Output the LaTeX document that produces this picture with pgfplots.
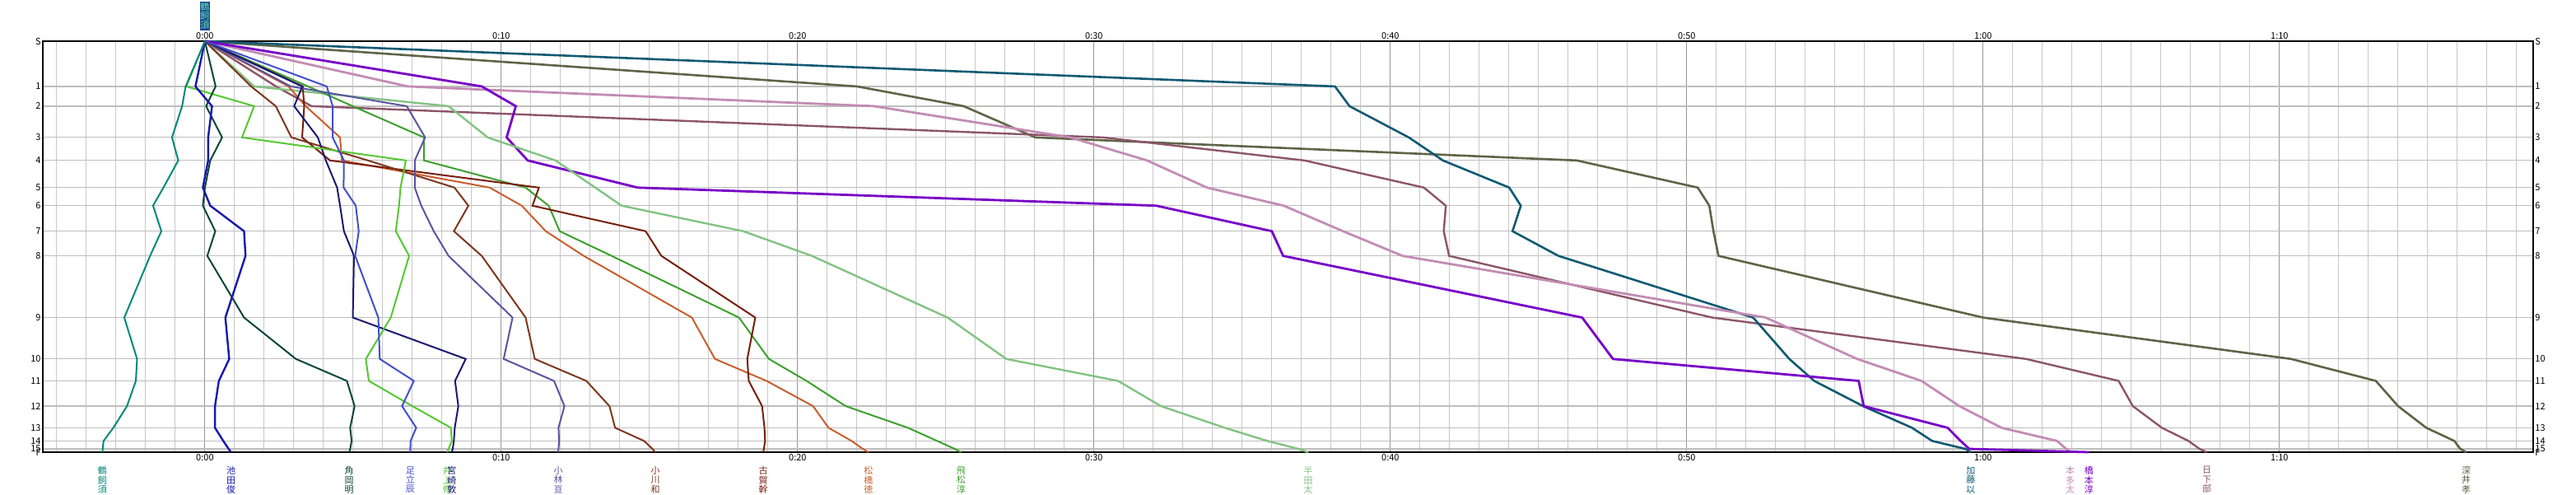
\documentclass[border=0pt]{standalone}
\usepackage{fontspec}
\setmainfont{Noto Sans CJK JP}
\usepackage{pgfplots}
\usepackage{pgfplotstable}
\pgfplotsset{compat=1.18}

\definecolor{c1}{RGB}{0,138,120}
\definecolor{c2}{RGB}{25,25,170}
\definecolor{c3}{RGB}{10,70,55}
\definecolor{c4}{RGB}{65,80,205}
\definecolor{c5}{RGB}{85,200,50}
\definecolor{c6}{RGB}{25,25,115}
\definecolor{c7}{RGB}{90,85,160}
\definecolor{c8}{RGB}{125,55,30}
\definecolor{c9}{RGB}{120,30,10}
\definecolor{c10}{RGB}{200,95,45}
\definecolor{c11}{RGB}{60,160,45}
\definecolor{c12}{RGB}{130,195,130}
\definecolor{c13}{RGB}{15,90,115}
\definecolor{c14}{RGB}{195,140,180}
\definecolor{c15}{RGB}{120,0,200}
\definecolor{c16}{RGB}{140,85,105}
\definecolor{c17}{RGB}{95,100,70}

% checkpoint position d, then time (minutes) of each runner
\pgfplotstableread{
d    r1    r2    r3   r4   r5   r6   r7    r8    r9    r10   r11   r12   r13   r14   r15   r16   r17
0    0     0     0    0    0    0    0     0     0     0     0     0     0     0     0     0     0
165  -0.65 -0.32 0.36 4.11 -0.63 3.29 2.9  1.56  3.30  2.82  3.48  1.66  38.13 6.85  9.34  2.4   22.0
237  -0.77 0.24  0.04 4.31 1.66 3.01 6.81  2.39  3.35  3.4   4.99  8.22  38.62 22.57 10.49 3.6   25.60
351  -1.11 0.11  0.58 4.31 1.25 3.81 7.43  2.92  3.28  4.56  7.39  9.54  40.62 29.2  10.18 30.3  28.02
435  -0.90 0.11  0.18 4.69 6.78 4.08 7.08  5.5   4.22  4.62  7.39  11.83 41.77 31.79 10.89 37.1  46.29
534  -1.40 -0.07 0.0  4.68 6.60 4.46 7.08  8.42  11.27 9.61  10.82 13.17 44.01 33.81 14.60 41.13 50.37
600  -1.75 0.18  -0.07 5.09 6.55 4.56 7.30 8.89  11.05 10.69 11.60 14.06 44.40 36.40 32.10 41.87 50.76
693  -1.47 1.32  0.35 5.19 6.44 4.69 7.72  8.40  14.87 11.50 11.97 18.16 44.12 38.4  36.0  41.80 50.9
783  -1.85 1.37  0.08 5.07 6.89 5.03 8.22  9.34  15.40 12.78 13.72 20.48 45.67 40.41 36.38 41.98 51.07
1008 -2.72 0.69  1.32 5.85 6.27 4.99 10.38 10.82 18.57 16.43 18.02 25.06 52.24 52.66 46.47 50.86 60.0
1159 -2.29 0.82  3.07 5.90 5.43 8.80 10.08 11.13 18.30 17.21 19.03 27.04 53.46 55.75 47.51 61.45 70.39
1239 -2.33 0.47  4.79 7.05 5.53 8.44 11.78 12.87 18.35 18.95 20.3  30.81 54.3  57.92 55.80 64.57 73.25
1331 -2.63 0.34  5.05 6.65 7.0  8.55 12.13 13.65 18.80 20.52 21.62 32.26 55.95 59.2  55.97 65.05 74.0
1410 -3.09 0.34  4.90 7.13 8.30 8.43 11.93 13.84 18.88 21.04 23.72 34.41 57.6  60.62 58.8  66.03 74.95
1458 -3.42 0.62  4.95 6.94 8.33 8.40 11.95 14.82 18.9  21.82 24.71 35.85 58.28 62.49 59.24 66.93 75.9
1487 -3.45 0.80  4.90 6.93 8.22 8.36 11.93 15.1  18.86 22.2  25.3  36.9  59.4  62.8  59.53 67.3  76.1
1499 -3.46 0.88  4.87 6.93 8.18 8.33 11.92 15.20 18.84 22.39 25.51 37.23 59.58 62.94 63.57 67.55 76.3
}\race

\newcommand\lab{\fontsize{5.5}{5.7}\selectfont}
\tikzset{nm/.style={anchor=north, text=#1, align=center, inner sep=0pt, font=\lab, yshift=-8.5pt}}

\begin{document}
\begin{tikzpicture}
\pgfplotsset{
  common/.style={
    scale only axis, width=1512.5pt, height=249.5pt,
    xmin=-5.47, xmax=78.56, ymin=0, ymax=1499, y dir=reverse,
    xtick={0,10,...,70},
    xticklabels={0:00,0:10,0:20,0:30,0:40,0:50,1:00,1:10},
    ytick={0,165,237,351,435,534,600,693,783,1008,1159,1239,1331,1410,1458,1487,1499},
    yticklabels={S,1,2,3,4,5,6,7,8,9,10,11,12,13,14,15,F},
    major tick length=0pt, minor tick length=0pt,
    tick label style={font=\lab, inner sep=1pt},
  },
}
\begin{axis}[common, name=main, clip=false,
    minor xtick={-5,-4,...,78},
    grid=both,
    major x grid style={draw={rgb,255:red,150;green,150;blue,150}, line width=0.5pt},
    minor x grid style={draw={rgb,255:red,200;green,200;blue,200}, line width=0.5pt},
    major y grid style={draw={rgb,255:red,190;green,190;blue,190}, line width=0.6pt},
    axis line style={black, line width=0.6pt},
    every axis plot/.append style={line width=1pt, mark=none},
  ]
  \addplot[c17, line width=1.3pt] table[x=r17,y=d] {\race};
  \addplot[c16, line width=1.2pt] table[x=r16,y=d] {\race};
  \addplot[c13, line width=1.3pt] table[x=r13,y=d] {\race};
  \addplot[c14, line width=1.4pt] table[x=r14,y=d] {\race};
  \addplot[c15, line width=1.4pt] table[x=r15,y=d] {\race};
  \addplot[c12, line width=1.2pt] table[x=r12,y=d] {\race};
  \addplot[c11] table[x=r11,y=d] {\race};
  \addplot[c10] table[x=r10,y=d] {\race};
  \addplot[c9] table[x=r9,y=d] {\race};
  \addplot[c8] table[x=r8,y=d] {\race};
  \addplot[c7] table[x=r7,y=d] {\race};
  \addplot[c6] table[x=r6,y=d] {\race};
  \addplot[c5] table[x=r5,y=d] {\race};
  \addplot[c4] table[x=r4,y=d] {\race};
  \addplot[c3] table[x=r3,y=d] {\race};
  \addplot[c2, line width=1.2pt] table[x=r2,y=d] {\race};
  \addplot[c1] table[x=r1,y=d] {\race};

  \node[nm=c1] at (axis cs:-3.46,1499) {鶴\\飼\\須};
  \node[nm=c2] at (axis cs:0.88,1499) {池\\田\\俊};
  \node[nm=c3] at (axis cs:4.87,1499) {角\\岡\\明};
  \node[nm=c4] at (axis cs:6.93,1499) {足\\立\\辰};
  \node[nm=c5] at (axis cs:8.18,1499) {井\\上\\修};
  \node[nm=c6] at (axis cs:8.33,1499) {宮\\崎\\敦};
  \node[nm=c7] at (axis cs:11.92,1499) {小\\林\\亘};
  \node[nm=c8] at (axis cs:15.20,1499) {小\\川\\和};
  \node[nm=c9] at (axis cs:18.84,1499) {古\\賀\\幹};
  \node[nm=c10] at (axis cs:22.39,1499) {松\\橋\\徳};
  \node[nm=c11] at (axis cs:25.51,1499) {飛\\松\\淳};
  \node[nm=c12] at (axis cs:37.23,1499) {半\\田\\太};
  \node[nm=c13] at (axis cs:59.58,1499) {加\\藤\\以};
  \node[nm=c14] at (axis cs:62.94,1499) {本\\多\\太};
  \node[nm=c15] at (axis cs:63.57,1499) {橋\\本\\淳};
  \node[nm=c16] at (axis cs:67.55,1499) {日\\下\\部};
  \node[nm=c17] at (axis cs:76.3,1499) {深\\井\\孝};

  \node[anchor=south, inner sep=0.4pt, fill={rgb,255:red,30;green,70;blue,150}, text={rgb,255:red,90;green,230;blue,160}, align=center, font=\lab, yshift=6.5pt] at (axis cs:0,0) {鶴\\飼\\須};
\end{axis}
\begin{axis}[common, axis line style={draw=none},
    xticklabel pos=upper, yticklabel pos=right,
    yticklabel style={anchor=west}]
\end{axis}
\pgfresetboundingbox
\path ([xshift=-26pt,yshift=-25.5pt]main.south west) rectangle ([xshift=26pt,yshift=25pt]main.north east);
\end{tikzpicture}
\end{document}
